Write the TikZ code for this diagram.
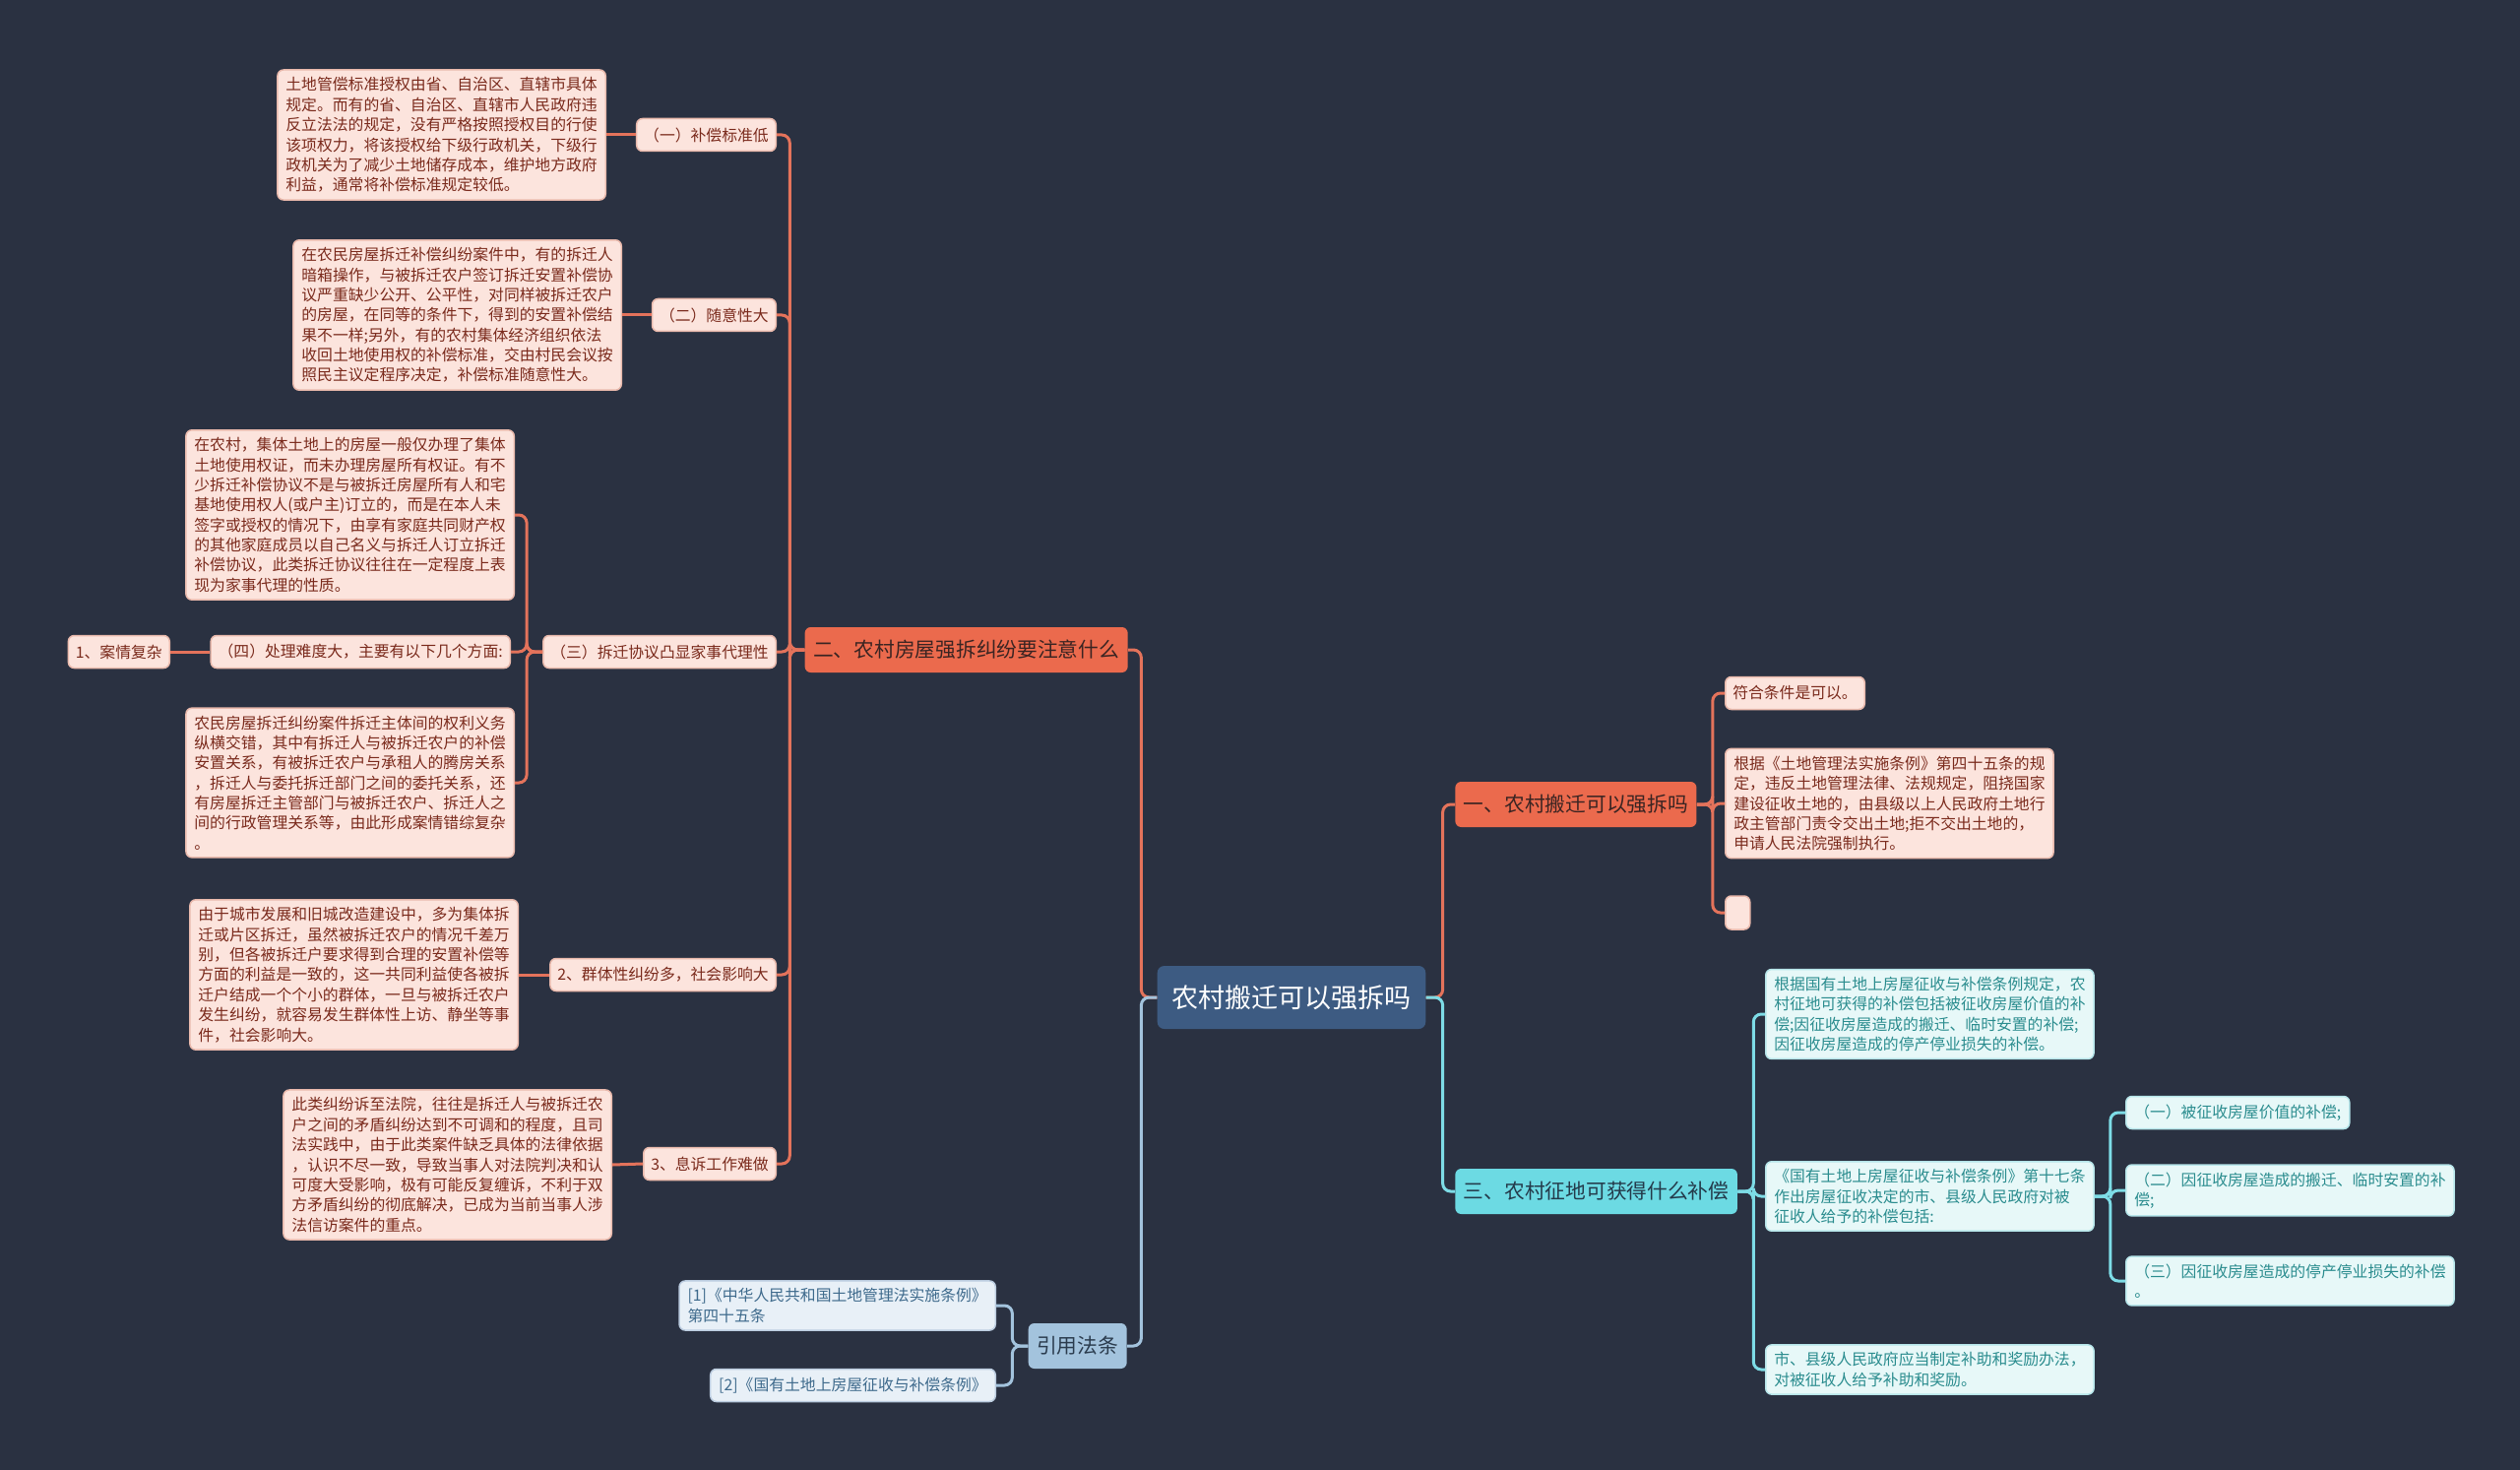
\documentclass[tikz,border=0pt]{standalone}
\usepackage{fontspec}
\setmainfont{Noto Sans CJK SC}
\definecolor{bgnavy}{HTML}{2A3141}
\definecolor{rootblue}{HTML}{3D5B82}
\definecolor{coral}{HTML}{EB6A4D}
\definecolor{coralline}{HTML}{E4735B}
\definecolor{coraltext}{HTML}{3A2422}
\definecolor{pinkfill}{HTML}{FCE4DD}
\definecolor{pinkedge}{HTML}{E9B9AC}
\definecolor{pinktext}{HTML}{7A2A1C}
\definecolor{cyanfill}{HTML}{6CDAE3}
\definecolor{cyanline}{HTML}{7DDCE6}
\definecolor{cyantext}{HTML}{243A4A}
\definecolor{icefill}{HTML}{E7F8F8}
\definecolor{iceedge}{HTML}{B6E6EA}
\definecolor{icetext}{HTML}{2A8C8E}
\definecolor{steelfill}{HTML}{A3C3DD}
\definecolor{steelline}{HTML}{A3C3DD}
\definecolor{steeltext}{HTML}{2B3C4E}
\definecolor{mistfill}{HTML}{E8F0F7}
\definecolor{mistedge}{HTML}{BCCDE0}
\definecolor{misttext}{HTML}{3E6A8C}
\begin{document}
\begin{tikzpicture}[
    x=0.2mm, y=-0.2mm,
    font=\fontsize{9}{11.6}\selectfont,
    root/.style={rectangle, rounded corners=1.4mm, fill=rootblue, text=white, font=\fontsize{15.4}{18}\selectfont, minimum height=12.8mm, inner xsep=2.9mm},
    branch/.style={rectangle, rounded corners=1.2mm, font=\fontsize{11.8}{14}\selectfont, minimum height=9.2mm, inner xsep=1.7mm},
    topic/.style={rectangle, rounded corners=1.2mm, fill=pinkfill, draw=pinkedge, line width=0.3mm, text=pinktext, minimum height=6.6mm, inner xsep=1.5mm},
    note/.style={topic, align=left, inner xsep=1.7mm, inner ysep=1.5mm},
    icenote/.style={note, fill=icefill, draw=iceedge, text=icetext},
    mistnote/.style={note, fill=mistfill, draw=mistedge, text=misttext},
    link/.style={line width=0.6mm, rounded corners=1.6mm}
]
    \fill[bgnavy] (0,0) rectangle (2560,1493);
    \useasboundingbox (0,0) rectangle (2560,1493);

    \node[root] (root) at (1312,1013) {农村搬迁可以强拆吗};

    % main branches
    \node[branch, fill=coral, text=coraltext, anchor=east] (care) at (1146,660) {二、农村房屋强拆纠纷要注意什么};
    \node[branch, fill=steelfill, text=steeltext, anchor=east] (refs) at (1145,1367) {引用法条};
    \node[branch, fill=coral, text=coraltext, anchor=west] (force) at (1478,817) {一、农村搬迁可以强拆吗};
    \node[branch, fill=cyanfill, text=cyantext, anchor=west] (comp) at (1478,1210) {三、农村征地可获得什么补偿};

    % left side
    \node[topic, anchor=east] (low) at (789,137) {（一）补偿标准低};
    \node[note, anchor=east] (lowtxt) at (616,137) {土地管偿标准授权由省、自治区、直辖市具体\\规定。而有的省、自治区、直辖市人民政府违\\反立法法的规定，没有严格按照授权目的行使\\该项权力，将该授权给下级行政机关，下级行\\政机关为了减少土地储存成本，维护地方政府\\利益，通常将补偿标准规定较低。};
    \node[topic, anchor=east] (rand) at (789,320) {（二）随意性大};
    \node[note, anchor=east] (randtxt) at (632,320) {在农民房屋拆迁补偿纠纷案件中，有的拆迁人\\暗箱操作，与被拆迁农户签订拆迁安置补偿协\\议严重缺少公开、公平性，对同样被拆迁农户\\的房屋，在同等的条件下，得到的安置补偿结\\果不一样;另外，有的农村集体经济组织依法\\收回土地使用权的补偿标准，交由村民会议按\\照民主议定程序决定，补偿标准随意性大。};
    \node[topic, anchor=east] (agent) at (789,662) {（三）拆迁协议凸显家事代理性};
    \node[note, anchor=east] (agenttxt) at (523,523) {在农村，集体土地上的房屋一般仅办理了集体\\土地使用权证，而未办理房屋所有权证。有不\\少拆迁补偿协议不是与被拆迁房屋所有人和宅\\基地使用权人(或户主)订立的，而是在本人未\\签字或授权的情况下，由享有家庭共同财产权\\的其他家庭成员以自己名义与拆迁人订立拆迁\\补偿协议，此类拆迁协议往往在一定程度上表\\现为家事代理的性质。};
    \node[topic, anchor=east] (hard) at (519,662) {（四）处理难度大，主要有以下几个方面:};
    \node[topic, anchor=east] (complex) at (173,662) {1、案情复杂};
    \node[note, anchor=east] (mixtxt) at (523,795) {农民房屋拆迁纠纷案件拆迁主体间的权利义务\\纵横交错，其中有拆迁人与被拆迁农户的补偿\\安置关系，有被拆迁农户与承租人的腾房关系\\，拆迁人与委托拆迁部门之间的委托关系，还\\有房屋拆迁主管部门与被拆迁农户、拆迁人之\\间的行政管理关系等，由此形成案情错综复杂\\。};
    \node[topic, anchor=east] (group) at (789,990) {2、群体性纠纷多，社会影响大};
    \node[note, anchor=east] (grouptxt) at (527,990) {由于城市发展和旧城改造建设中，多为集体拆\\迁或片区拆迁，虽然被拆迁农户的情况千差万\\别，但各被拆迁户要求得到合理的安置补偿等\\方面的利益是一致的，这一共同利益使各被拆\\迁户结成一个个小的群体，一旦与被拆迁农户\\发生纠纷，就容易发生群体性上访、静坐等事\\件，社会影响大。};
    \node[topic, anchor=east] (sue) at (789,1182) {3、息诉工作难做};
    \node[note, anchor=east] (suetxt) at (622,1183) {此类纠纷诉至法院，往往是拆迁人与被拆迁农\\户之间的矛盾纠纷达到不可调和的程度，且司\\法实践中，由于此类案件缺乏具体的法律依据\\，认识不尽一致，导致当事人对法院判决和认\\可度大受影响，极有可能反复缠诉，不利于双\\方矛盾纠纷的彻底解决，已成为当前当事人涉\\法信访案件的重点。};

    % references
    \node[mistnote, anchor=east] (ref1) at (1012,1326) {[1]《中华人民共和国土地管理法实施条例》\\第四十五条};
    \node[mistnote, anchor=east] (ref2) at (1012,1407) {[2]《国有土地上房屋征收与补偿条例》};

    % right side
    \node[topic, anchor=west] (yes) at (1752,704) {符合条件是可以。};
    \node[note, anchor=west] (law) at (1752,816) {根据《土地管理法实施条例》第四十五条的规\\定，违反土地管理法律、法规规定，阻挠国家\\建设征收土地的，由县级以上人民政府土地行\\政主管部门责令交出土地;拒不交出土地的，\\申请人民法院强制执行。};
    \node[topic, anchor=west, minimum width=5mm, minimum height=6.8mm, inner sep=0pt] (blank) at (1752,927) {};
    \node[icenote, anchor=west] (rule) at (1793,1030) {根据国有土地上房屋征收与补偿条例规定，农\\村征地可获得的补偿包括被征收房屋价值的补\\偿;因征收房屋造成的搬迁、临时安置的补偿;\\因征收房屋造成的停产停业损失的补偿。};
    \node[icenote, anchor=west] (art17) at (1793,1215) {《国有土地上房屋征收与补偿条例》第十七条\\作出房屋征收决定的市、县级人民政府对被\\征收人给予的补偿包括:};
    \node[icenote, anchor=west] (reward) at (1793,1391) {市、县级人民政府应当制定补助和奖励办法，\\对被征收人给予补助和奖励。};
    \node[icenote, anchor=west] (value) at (2159,1130) {（一）被征收房屋价值的补偿;};
    \node[icenote, anchor=west] (move) at (2159,1209) {（二）因征收房屋造成的搬迁、临时安置的补\\偿;};
    \node[icenote, anchor=west] (loss) at (2159,1301) {（三）因征收房屋造成的停产停业损失的补偿\\。};

    % connectors
    \draw[link, coralline] (root.west) -- ++(-16,0) |- (care.east);
    \draw[link, steelline] (root.west) -- ++(-16,0) |- (refs.east);
    \draw[link, coralline] (root.east) -- ++(17,0) |- (force.west);
    \draw[link, cyanline] (root.east) -- ++(17,0) |- (comp.west);

    \draw[link, coralline] (care.west) -- ++(-15,0) |- (low.east);
    \draw[link, coralline] (care.west) -- ++(-15,0) |- (rand.east);
    \draw[link, coralline] (care.west) -- ++(-15,0) |- (agent.east);
    \draw[link, coralline] (care.west) -- ++(-15,0) |- (group.east);
    \draw[link, coralline] (care.west) -- ++(-15,0) |- (sue.east);
    \draw[link, coralline] (low.west) -- (lowtxt.east);
    \draw[link, coralline] (rand.west) -- (randtxt.east);
    \draw[link, coralline] (agent.west) -- ++(-16,0) |- (agenttxt.east);
    \draw[link, coralline] (agent.west) -- ++(-16,0) |- (hard.east);
    \draw[link, coralline] (agent.west) -- ++(-16,0) |- (mixtxt.east);
    \draw[link, coralline] (hard.west) -- (complex.east);
    \draw[link, coralline] (group.west) -- (grouptxt.east);
    \draw[link, coralline] (sue.west) -- (suetxt.east);

    \draw[link, steelline] (refs.west) -- ++(-16,0) |- (ref1.east);
    \draw[link, steelline] (refs.west) -- ++(-16,0) |- (ref2.east);

    \draw[link, coralline] (force.east) -- ++(16,0) |- (yes.west);
    \draw[link, coralline] (force.east) -- ++(16,0) |- (law.west);
    \draw[link, coralline] (force.east) -- ++(16,0) |- (blank.west);

    \draw[link, cyanline] (comp.east) -- ++(16,0) |- (rule.west);
    \draw[link, cyanline] (comp.east) -- ++(16,0) |- (art17.west);
    \draw[link, cyanline] (comp.east) -- ++(16,0) |- (reward.west);
    \draw[link, cyanline] (art17.east) -- ++(16,0) |- (value.west);
    \draw[link, cyanline] (art17.east) -- ++(16,0) |- (move.west);
    \draw[link, cyanline] (art17.east) -- ++(16,0) |- (loss.west);
\end{tikzpicture}
\end{document}
